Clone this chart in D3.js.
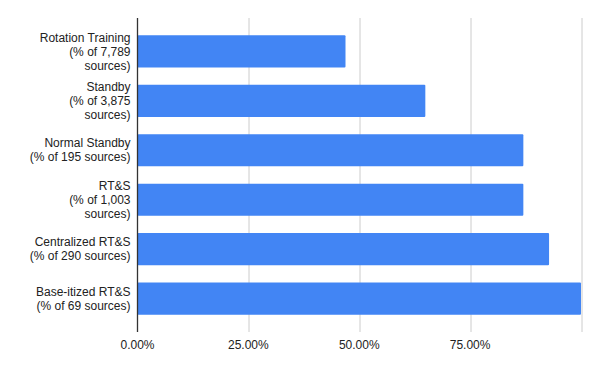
<!DOCTYPE html>
<html>
<head>
<meta charset="utf-8">
<script src="https://cdn.jsdelivr.net/npm/d3@7"></script>
<style>
  body { margin: 0; background: #fff; }
  svg { display: block; font-family: Arial, "Liberation Sans", sans-serif; }
</style>
</head>
<body>
<svg width="600" height="371"></svg>
<script>
// Données
const categories = [
  ["Rotation Training", "(% of 7,789", "sources)"],
  ["Standby", "(% of 3,875", "sources)"],
  ["Normal Standby", "(% of 195 sources)"],
  ["RT&S", "(% of 1,003", "sources)"],
  ["Centralized RT&S", "(% of 290 sources)"],
  ["Base-itized RT&S", "(% of 69 sources)"]
];
const values = [0.469, 0.649, 0.870, 0.870, 0.928, 1.0];
const tickValues = [0, 0.25, 0.5, 0.75, 1.0];
const tickLabels = ["0.00%", "25.00%", "50.00%", "75.00%", ""];

const svg = d3.select("svg"),
      margin = { top: 18, right: 19, bottom: 39, left: 137.5 },
      width = 600 - margin.left - margin.right,
      height = 371 - margin.top - margin.bottom;

const data = categories.map((c, i) => ({ id: i, lines: c, value: values[i] }));

const x = d3.scaleLinear().domain([0, 1]).range([0, 443.5]);
const y = d3.scaleBand()
    .domain(data.map(d => d.id))
    .range([0, height])
    .paddingInner(0.35)
    .paddingOuter(0.35);

const g = svg.append("g")
    .attr("transform", `translate(${margin.left},${margin.top})`);

// grille
g.selectAll(".grid")
  .data(tickValues.slice(1))
  .enter().append("line")
    .attr("x1", d => Math.round(x(d)) + 0.5)
    .attr("x2", d => Math.round(x(d)) + 0.5)
    .attr("y1", 0)
    .attr("y2", height)
    .attr("stroke", "#cccccc")
    .attr("stroke-width", 1);

// barres
g.selectAll(".bar")
  .data(data)
  .enter().append("rect")
    .attr("class", "bar")
    .attr("x", 0)
    .attr("y", d => y(d.id))
    .attr("width", d => x(d.value))
    .attr("height", y.bandwidth())
    .attr("rx", 1)
    .attr("fill", "#4285f4");

// axe vertical
g.append("line")
    .attr("x1", 0).attr("x2", 0)
    .attr("y1", 0).attr("y2", height)
    .attr("stroke", "#333333")
    .attr("stroke-width", 1.3);

// étiquettes des catégories
const lineH = 14;
const labels = g.selectAll(".label")
  .data(data)
  .enter().append("text")
    .attr("class", "label")
    .attr("text-anchor", "end")
    .attr("font-size", 12)
    .attr("fill", "#222222");

labels.each(function(d) {
  const t = d3.select(this);
  const cy = y(d.id) + y.bandwidth() / 2;
  const n = d.lines.length;
  d.lines.forEach((line, i) => {
    t.append("tspan")
      .attr("x", -7)
      .attr("y", cy + (i - (n - 1) / 2) * lineH)
      .attr("dy", "0.35em")
      .text(line);
  });
});

// étiquettes de l'axe x
g.selectAll(".tick")
  .data(tickValues)
  .enter().append("text")
    .attr("x", d => x(d))
    .attr("y", height + 17)
    .attr("text-anchor", "middle")
    .attr("font-size", 12)
    .attr("fill", "#222222")
    .text((d, i) => tickLabels[i]);
</script>
</body>
</html>
